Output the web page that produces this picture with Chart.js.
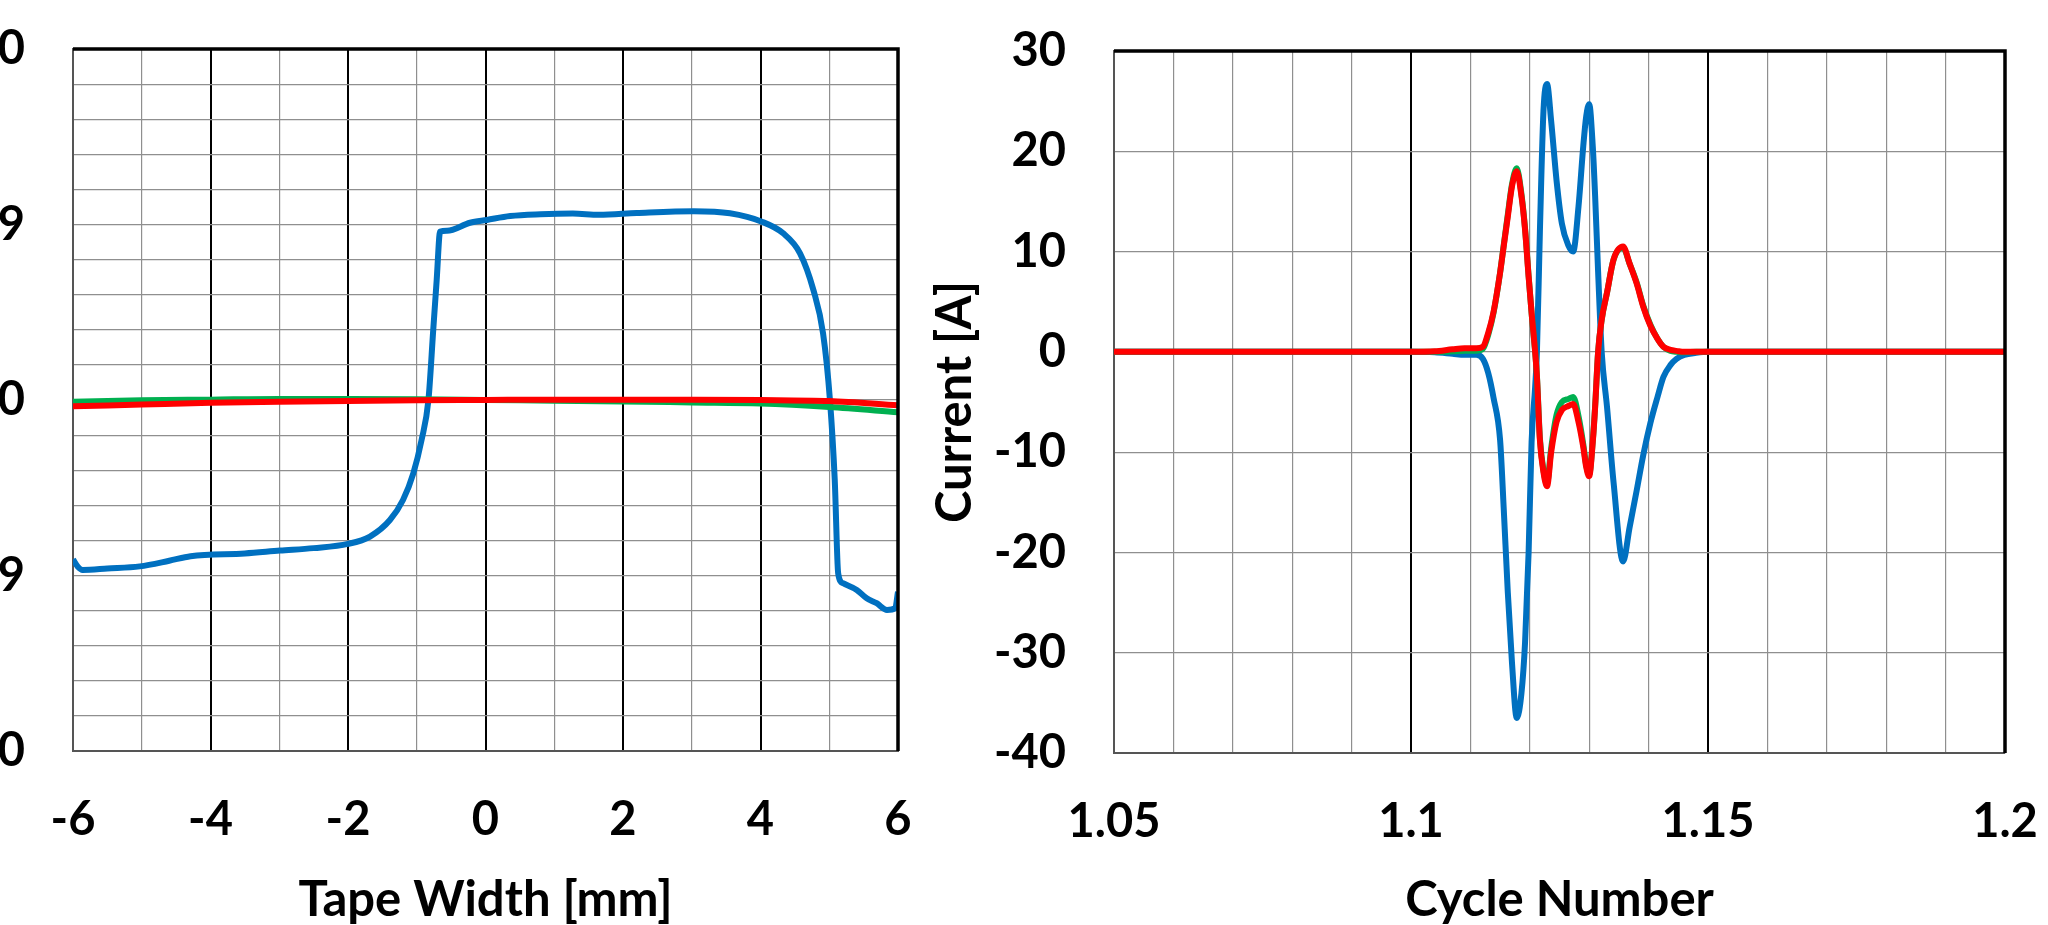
<!DOCTYPE html>
<html>
<head>
<meta charset="utf-8">
<script src="https://cdn.jsdelivr.net/npm/chart.js@4.4.1/dist/chart.umd.min.js"></script>
<style>
    html, body { margin: 0; padding: 0; background: #fff; overflow: hidden; }
    body { width: 2048px; height: 925px; position: relative; }
    canvas { position: absolute; top: 0; }
    #width-chart { left: -177px; }
    #cycle-chart { left: 931px; }
</style>
</head>
<body>
<canvas id="width-chart" width="1095" height="925"></canvas>
<canvas id="cycle-chart" width="1117" height="925"></canvas>
<script>
// Left panel: profile across the tape width
const widthPos = [-6, -5.93, -5.86, -5.5, -5.03, -4.6, -4.29, -3.5, -2.99, -2.5, -2.0, -1.68, -1.39, -1.2, -1.05,
    -0.93, -0.83, -0.76, -0.71, -0.66, -0.56, -0.225, 0.02, 0.36, 0.8, 1.27, 1.65, 2.2, 3.03, 3.556, 4.02, 4.33,
    4.575, 4.77, 4.91, 5.01, 5.08, 5.13, 5.2, 5.4, 5.545, 5.69, 5.84, 5.96, 6.0];
const widthBlue = [-4.54e9, -4.75e9, -4.84e9, -4.80e9, -4.74e9, -4.58e9, -4.45e9, -4.37e9, -4.29e9, -4.22e9, -4.10e9,
    -3.89e9, -3.42e9, -2.85e9, -2.09e9, -1.14e9, 0, 2.0e9, 3.42e9, 4.80e9, 4.82e9, 5.05e9, 5.13e9, 5.24e9, 5.29e9,
    5.31e9, 5.28e9, 5.33e9, 5.38e9, 5.32e9, 5.08e9, 4.75e9, 4.18e9, 3.13e9, 1.90e9, 0, -2.28e9, -4.94e9, -5.22e9,
    -5.41e9, -5.65e9, -5.79e9, -5.98e9, -5.93e9, -5.46e9];
const widthFlatPos = [-6, -5, -4, -3, -2, -1, 0, 1, 2, 3, 4, 5, 6];
const widthRed = [-0.18e9, -0.13e9, -0.08e9, -0.05e9, -0.03e9, -0.01e9, 0, 0.01e9, 0.01e9, 0.01e9, 0, -0.03e9, -0.15e9];
const widthGreen = [-0.05e9, -0.01e9, 0.01e9, 0.03e9, 0.03e9, 0.02e9, 0, -0.02e9, -0.04e9, -0.07e9, -0.10e9, -0.2e9, -0.35e9];
const widthLabels = ['-1.0E+10', '-5.0E+09', '0.0E+00', '5.0E+09', '1.0E+10'];

// Right panel: current over one cycle
const cycleX = [1.05, 1.1, 1.104, 1.107, 1.109, 1.111, 1.1121, 1.113, 1.1139, 1.115, 1.1156, 1.1163, 1.117, 1.1178,
    1.1186, 1.1192, 1.1198, 1.1203, 1.1209, 1.1212, 1.1217, 1.1223, 1.1229, 1.1236, 1.1245, 1.1254, 1.1265, 1.1273,
    1.1282, 1.129, 1.1295, 1.13, 1.1306, 1.131, 1.1315, 1.1321, 1.133, 1.1341, 1.1357, 1.1368, 1.138, 1.1391,
    1.1403, 1.1415, 1.1425, 1.1437, 1.1447, 1.146, 1.148, 1.15, 1.2];
const cycleBlue = [0, 0, -0.05, -0.2, -0.3, -0.3, -0.7, -2.1, -4.6, -8.8, -15.5, -24, -31, -36.5,
    -34, -29, -20, -9, -3.5, 0, 12, 24, 26.7, 23, 17.1, 12.8, 10.6, 10,
    14.5, 20.5, 23.5, 24.7, 20.5, 15.5, 8, 0, -5.5, -13, -20.9, -17.5, -13.8, -10.3,
    -7.1, -4.5, -2.5, -1.3, -0.7, -0.3, -0.1, 0, 0];
const cycleRed = [0, 0, 0.05, 0.25, 0.35, 0.35, 0.5, 1.9, 4.0, 7.9, 10.5, 13.5, 16.5, 18,
    15.5, 12.2, 7.5, 3.9, 0, -2.5, -8.8, -12, -13.4, -10, -7, -5.8, -5.4, -5.2,
    -7, -9.5, -11.5, -12.4, -9, -5.5, 0, 3.2, 5.9, 9.2, 10.5, 8.8, 6.8, 4.5,
    2.6, 1.3, 0.5, 0.2, 0.1, 0, 0, 0, 0];
const cycleGreen = [0, 0, 0, 0.05, 0.1, 0.1, 0.3, 1.7, 3.9, 7.9, 10.6, 13.7, 16.7, 18.3,
    15.7, 12.3, 7.6, 3.9, 0, -2.4, -8.6, -11.8, -13.1, -9.6, -6.3, -5.0, -4.7, -4.5,
    -6.4, -9.2, -11.3, -12.2, -8.9, -5.4, 0, 3.2, 5.9, 9.2, 10.4, 8.8, 6.9, 4.6,
    2.7, 1.3, 0.5, 0.1, 0, -0.05, 0, 0, 0];
const cycleLabels = ['1.05', '1.1', '1.15', '1.2'];
const cycleMajor = ['1.1', '1.15'];

const BLUE = '#0070C0';
const RED = '#FF0000';
const GREEN = '#00B050';
const GRID_GRAY = '#8f8f8f';
const FONT = 'Lato, "Open Sans", sans-serif';

function points(xs, ys) {
    return xs.map((x, i) => ({ x: x, y: ys[i] }));
}

function lineSet(xs, ys, color) {
    return {
        data: points(xs, ys),
        borderColor: color,
        borderWidth: 6,
        pointRadius: 0,
        fill: false,
        cubicInterpolationMode: 'monotone'
    };
}

// heavy top and right edge of the plot frame
const framePlugin = {
    id: 'frame',
    afterDatasetsDraw(chart) {
        const a = chart.chartArea;
        const ctx = chart.ctx;
        ctx.save();
        ctx.strokeStyle = '#000';
        ctx.lineWidth = 3.5;
        ctx.beginPath();
        ctx.moveTo(a.left, a.top);
        ctx.lineTo(a.right, a.top);
        ctx.lineTo(a.right, a.bottom);
        ctx.stroke();
        ctx.restore();
    }
};

const tickFont = { family: FONT, size: 47, weight: 'bold' };
const titleFont = { family: FONT, size: 49, weight: 'bold', lineHeight: 1.0 };

function findLabel(labels, value) {
    return labels.find(l => Math.abs(parseFloat(l) - value) < 1e-6 * Math.max(1, Math.abs(value))) || '';
}

// fixed axis sizes, and no extra room for overhanging labels
function fixY(width) {
    return scale => {
        scale.width = width;
        scale.paddingTop = 0;
        scale.paddingBottom = 0;
    };
}
function fixX(height) {
    return scale => {
        scale.height = height;
        scale.paddingLeft = 0;
        scale.paddingRight = 0;
    };
}

// Tape width profile
new Chart(document.getElementById('width-chart'), {
    type: 'line',
    data: {
        datasets: [
            lineSet(widthFlatPos, widthRed, RED),
            lineSet(widthFlatPos, widthGreen, GREEN),
            lineSet(widthPos, widthBlue, BLUE)
        ]
    },
    options: {
        responsive: false,
        animation: false,
        devicePixelRatio: 1,
        layout: { autoPadding: false, padding: { top: 49, right: 20, bottom: 0, left: 0 } },
        plugins: { legend: { display: false }, tooltip: { enabled: false } },
        scales: {
            x: {
                type: 'linear',
                min: -6,
                max: 6,
                afterFit: fixX(174),
                ticks: {
                    stepSize: 1,
                    autoSkip: false,
                    maxRotation: 0,
                    maxTicksLimit: 100,
                    padding: 41,
                    color: '#000',
                    font: tickFont,
                    callback: v => (Math.round(v) % 2 === 0 ? String(Math.round(v)) : '')
                },
                grid: {
                    drawTicks: false,
                    color: ctx => (Math.round(ctx.tick.value) % 2 === 0 ? '#000' : GRID_GRAY),
                    lineWidth: ctx => (Math.round(ctx.tick.value) % 2 === 0 ? 2 : 1.2)
                },
                border: { color: '#555', width: 2 },
                title: { display: true, text: 'Tape Width [mm]', color: '#000', font: titleFont, padding: { top: 0, bottom: 0 } }
            },
            y: {
                min: -1e10,
                max: 1e10,
                afterFit: fixY(250),
                ticks: {
                    stepSize: 1e9,
                    autoSkip: false,
                    maxTicksLimit: 100,
                    padding: 48,
                    color: '#000',
                    font: tickFont,
                    callback: v => findLabel(widthLabels, v)
                },
                grid: { drawTicks: false, color: GRID_GRAY, lineWidth: 1.2 },
                border: { color: '#555', width: 2 }
            }
        }
    },
    plugins: [framePlugin]
});

// Current vs cycle number
new Chart(document.getElementById('cycle-chart'), {
    type: 'line',
    data: {
        datasets: [
            lineSet(cycleX, cycleRed, RED),
            lineSet(cycleX, cycleGreen, GREEN),
            lineSet(cycleX, cycleBlue, BLUE)
        ]
    },
    options: {
        responsive: false,
        animation: false,
        devicePixelRatio: 1,
        layout: { autoPadding: false, padding: { top: 51, right: 43, bottom: 0, left: 0 } },
        plugins: { legend: { display: false }, tooltip: { enabled: false } },
        scales: {
            x: {
                type: 'linear',
                min: 1.05,
                max: 1.2,
                afterFit: fixX(172),
                ticks: {
                    stepSize: 0.01,
                    autoSkip: false,
                    maxRotation: 0,
                    maxTicksLimit: 100,
                    padding: 41,
                    color: '#000',
                    font: tickFont,
                    callback: v => findLabel(cycleLabels, v)
                },
                grid: {
                    drawTicks: false,
                    color: ctx => (findLabel(cycleMajor, ctx.tick.value) ? '#000' : GRID_GRAY),
                    lineWidth: ctx => (findLabel(cycleMajor, ctx.tick.value) ? 2 : 1.2)
                },
                border: { color: '#555', width: 2 },
                title: { display: true, text: 'Cycle Number', color: '#000', font: titleFont, padding: { top: 0, bottom: 0 } }
            },
            y: {
                min: -40,
                max: 30,
                afterFit: fixY(183),
                ticks: {
                    stepSize: 10,
                    autoSkip: false,
                    padding: 48,
                    color: '#000',
                    font: tickFont
                },
                grid: { drawTicks: false, color: GRID_GRAY, lineWidth: 1.2 },
                border: { color: '#555', width: 2 },
                title: { display: true, text: 'Current [A]', color: '#000', font: titleFont, padding: { top: 0, bottom: 0 } }
            }
        }
    },
    plugins: [framePlugin]
});
</script>
</body>
</html>
